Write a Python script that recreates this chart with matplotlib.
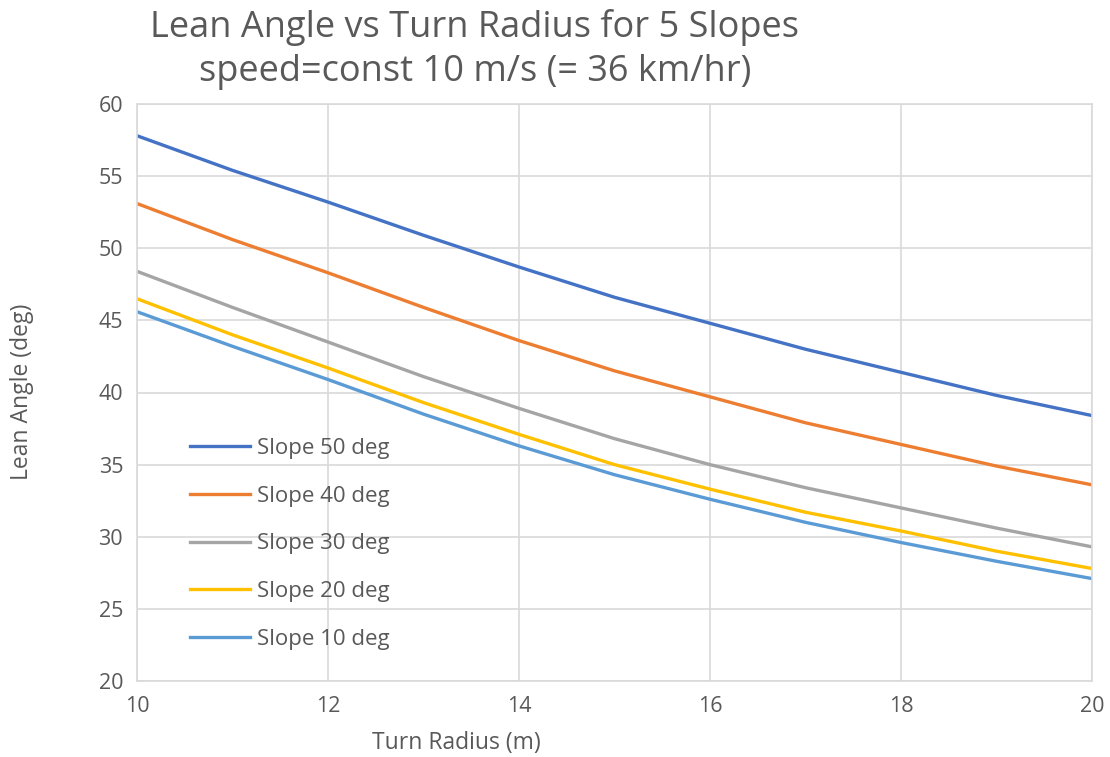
import matplotlib
matplotlib.use("Agg")
from matplotlib import pyplot as plt

# Data
radius = [10, 11, 12, 13, 14, 15, 16, 17, 18, 19, 20]
slope_50 = [57.8, 55.4, 53.2, 50.9, 48.7, 46.6, 44.8, 43.0, 41.4, 39.8, 38.4]
slope_40 = [53.1, 50.6, 48.3, 45.9, 43.6, 41.5, 39.7, 37.9, 36.4, 34.9, 33.6]
slope_30 = [48.4, 45.9, 43.5, 41.1, 38.9, 36.8, 35.0, 33.4, 32.0, 30.6, 29.3]
slope_20 = [46.5, 44.0, 41.7, 39.3, 37.1, 35.0, 33.3, 31.7, 30.4, 29.0, 27.8]
slope_10 = [45.6, 43.2, 40.9, 38.5, 36.3, 34.3, 32.6, 31.0, 29.6, 28.3, 27.1]

series = [
    ('Slope 50 deg', slope_50, '#4472C4'),
    ('Slope 40 deg', slope_40, '#ED7D31'),
    ('Slope 30 deg', slope_30, '#A5A5A5'),
    ('Slope 20 deg', slope_20, '#FFC000'),
    ('Slope 10 deg', slope_10, '#5B9BD5'),
]

plt.rcParams['font.family'] = ['Open Sans', 'DejaVu Sans']
text_color = '#595959'
grid_color = '#D9D9D9'

fig = plt.figure(figsize=(11.1, 7.57), dpi=100)
ax = fig.add_axes([137 / 1110, 1 - 681 / 757, (1092 - 137) / 1110, (681 - 104) / 757])

for name, values, color in series:
    ax.plot(radius, values, color=color, linewidth=2.4, label=name)

ax.set_xlim(10, 20)
ax.set_ylim(20, 60)
ax.set_xticks(range(10, 21, 2))
ax.set_yticks(range(20, 61, 5))
ax.grid(True, color=grid_color, linewidth=1.2)
ax.set_axisbelow(True)
for spine in ax.spines.values():
    spine.set_color(grid_color)
    spine.set_linewidth(1.2)
ax.tick_params(length=0, labelsize=15.5, colors=text_color)
ax.tick_params(axis='x', pad=11)
ax.tick_params(axis='y', pad=10)

fig.text(475 / 1110, 1 - 27 / 757, 'Lean Angle vs Turn Radius for 5 Slopes',
         ha='center', va='center', fontsize=26, color=text_color)
fig.text(475 / 1110, 1 - 72 / 757, 'speed=const 10 m/s (= 36 km/hr)',
         ha='center', va='center', fontsize=26, color=text_color)
fig.text(456 / 1110, 1 - 743 / 757, 'Turn Radius (m)',
         ha='center', va='center', fontsize=16.5, color=text_color)
fig.text(22 / 1110, 1 - 392 / 757, 'Lean Angle (deg)', rotation=90,
         ha='center', va='center', fontsize=16.5, color=text_color)

ax.legend(loc='center left', bbox_to_anchor=(0.0555, 0.2375), frameon=False,
          fontsize=16, labelcolor=text_color, handlelength=2.7, borderpad=0,
          borderaxespad=0, handletextpad=0.3, labelspacing=1.2)

fig.savefig('out.png', dpi=100)
